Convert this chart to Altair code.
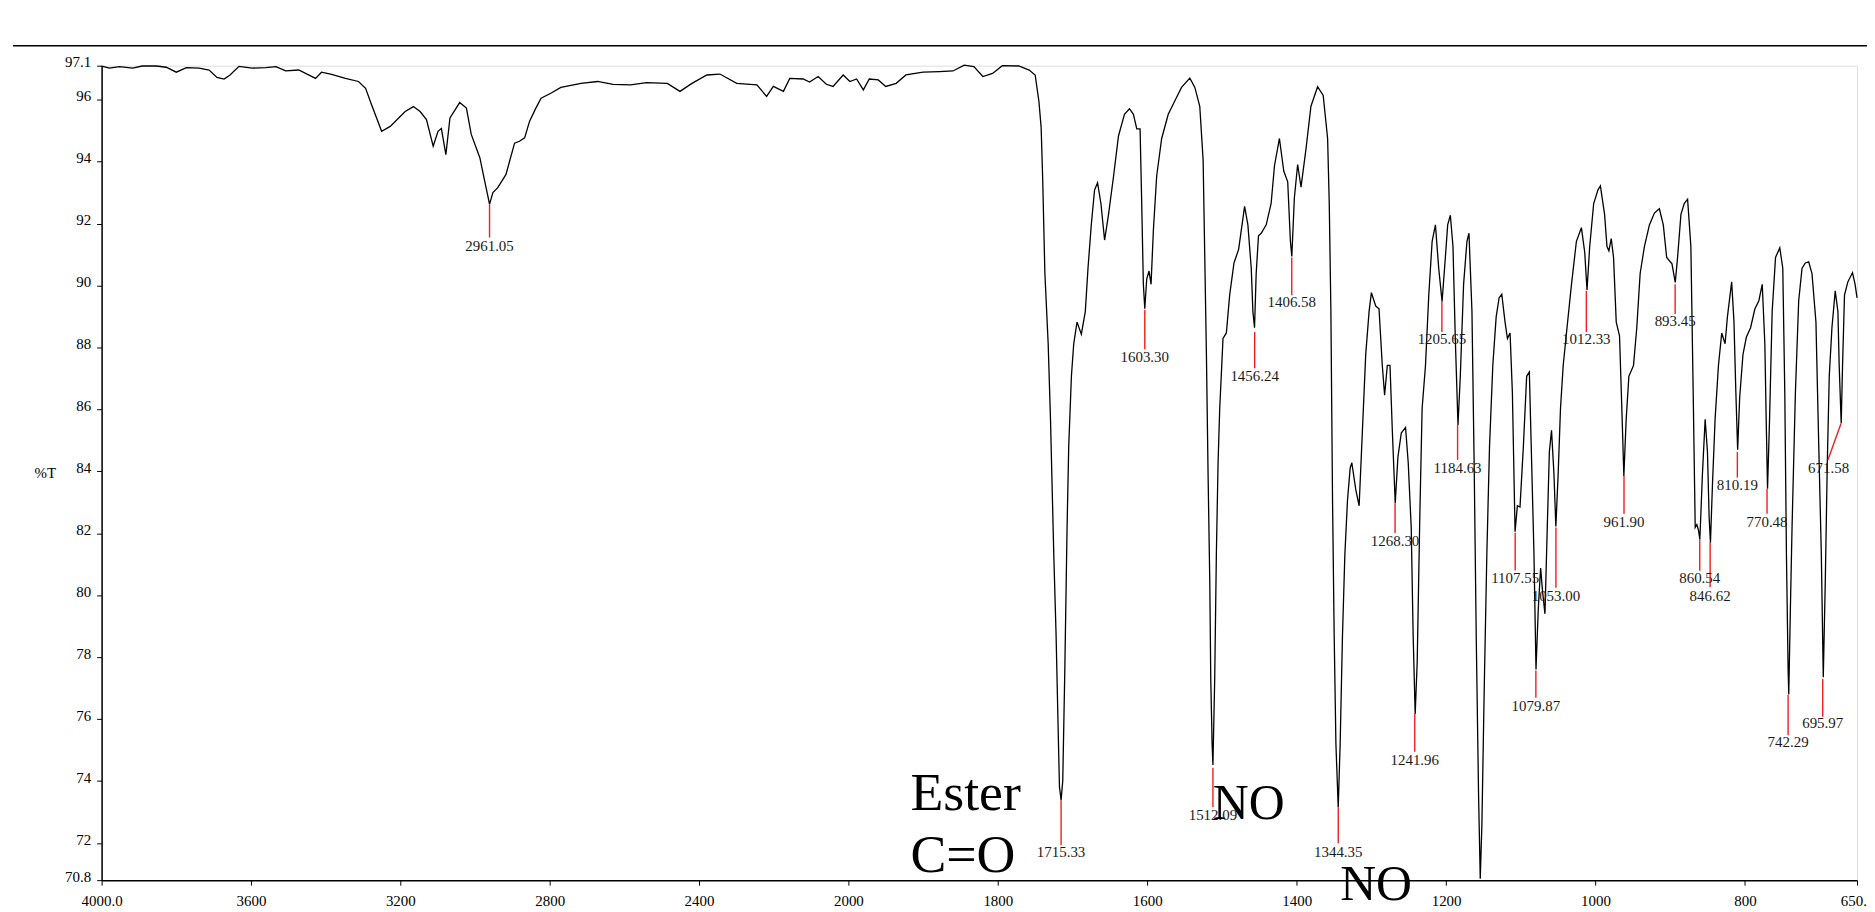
import altair as alt
import pandas as pd

# ---- spectrum trace (wavenumber cm-1, %T) ----
wavenumber = [
    4000, 3979, 3952, 3917, 3891, 3853, 3827, 3800, 3773, 3739, 3712, 3691, 3672, 3656, 3632,
    3597, 3560, 3533, 3507, 3472, 3427, 3411, 3384, 3347, 3312, 3293, 3277, 3250, 3227, 3187,
    3165, 3147, 3130, 3112, 3099, 3090, 3078, 3067, 3041, 3023, 3010, 2987, 2974, 2961, 2952,
    2939, 2917, 2894, 2881, 2867, 2854, 2837, 2823, 2797, 2770, 2716, 2672, 2630, 2584, 2540,
    2485, 2451, 2420, 2379, 2344, 2299, 2245, 2219, 2201, 2174, 2157, 2121, 2104, 2081, 2059,
    2041, 2014, 1998, 1989, 1980, 1972, 1960, 1950, 1936, 1923, 1900, 1878, 1860, 1845, 1832,
    1820, 1807, 1794, 1772, 1758, 1750, 1745, 1742, 1740, 1737, 1732.6, 1729.5, 1725.1, 1722,
    1719.3, 1717.5, 1715.3, 1713.1, 1710.4, 1707.3, 1705.1, 1701.5, 1698.4, 1694, 1688.2,
    1682.9, 1679.3, 1674.9, 1670.5, 1666.5, 1662, 1657.1, 1651.8, 1645.1, 1638.5, 1630.5,
    1623.8, 1618.5, 1614, 1609.6, 1607.4, 1605.2, 1603.3, 1600.7, 1597.6, 1594.9, 1591.8,
    1587.4, 1580.7, 1571.9, 1563, 1554.1, 1543, 1536.3, 1529.7, 1525.2, 1523, 1520.8, 1518.6,
    1516.3, 1515, 1513.2, 1512.1, 1509.7, 1507.5, 1505.2, 1503, 1498.6, 1494.1, 1489.7,
    1483.9, 1477.7, 1469.7, 1465.3, 1460.8, 1458.6, 1456.4, 1454.2, 1451.1, 1447.5, 1440.8,
    1434.2, 1429.7, 1423.1, 1417.3, 1412, 1408.4, 1406.5, 1403.1, 1398.7, 1394.2, 1387.6,
    1380.9, 1372, 1364.5, 1358.6, 1356.4, 1354.2, 1352, 1349.8, 1347.5, 1344.4, 1341.8,
    1338.7, 1335.5, 1332, 1328.4, 1326.2, 1320.9, 1316.4, 1312, 1307.6, 1303.1, 1300, 1294.2,
    1289.8, 1285.4, 1282.3, 1278.7, 1275.1, 1272, 1268.1, 1264.5, 1260, 1254.3, 1250.7,
    1246.7, 1244.1, 1241.4, 1238.7, 1235.2, 1232.1, 1227.6, 1223.2, 1218.7, 1214.3, 1209.9,
    1205.4, 1201, 1197.9, 1194.3, 1190.8, 1187.7, 1184.1, 1181, 1176.6, 1172.1, 1169.4,
    1165.4, 1162.3, 1159.7, 1156.5, 1154.3, 1152.1, 1149, 1145.5, 1141.9, 1137.5, 1133,
    1129.1, 1125.5, 1121.1, 1117.9, 1114.4, 1111.3, 1107.7, 1104.6, 1101.1, 1096.6, 1092.2,
    1088.6, 1085.5, 1082.4, 1079.7, 1076.6, 1073.5, 1070.8, 1067.7, 1064.6, 1061.8, 1058.9,
    1055.7, 1053.1, 1050, 1046.9, 1043.3, 1038.9, 1032.2, 1025.6, 1018.9, 1014.5, 1011.4,
    1007.8, 1002.5, 996.7, 993.5, 987.9, 984.7, 982.1, 979, 975.9, 972.3, 967.9, 964.8,
    962.1, 959, 955.4, 949.2, 944.8, 940.3, 934.6, 927.9, 921.2, 914.6, 909.3, 904.8, 897.7,
    893.3, 890.2, 885.7, 881.3, 876.8, 872.4, 869.3, 866.6, 864.4, 862.2, 860.4, 856.9,
    853.3, 850.2, 848, 846.2, 843.5, 840, 835.5, 831.1, 826.6, 823.5, 817.8, 814.7, 812.4,
    809.8, 807.1, 802.7, 798.2, 792.5, 786.7, 781.4, 776.9, 773.4, 771.6, 769.8, 767.1,
    763.6, 759.1, 753.4, 749.4, 746.7, 744.5, 742.3, 741.4, 739.2, 737, 732.5, 728.1, 723.6,
    719.2, 714.7, 710.3, 705, 701.4, 697.8, 695.2, 692.5, 689.8, 687.2, 683.6, 679.2, 675.6,
    673.9, 671.2, 669.4, 666.8, 662.3, 656.1, 652.6, 650,
]
transmittance = [
    97.09, 97.02, 97.07, 97.02, 97.09, 97.09, 97.05, 96.89, 97.04, 97.02, 96.96, 96.72, 96.67, 96.80, 97.08,
    97.02, 97.04, 97.07, 96.93, 96.96, 96.69, 96.89, 96.82, 96.69, 96.59, 96.37, 95.84, 94.98, 95.14, 95.62,
    95.78, 95.62, 95.36, 94.50, 94.98, 95.07, 94.23, 95.41, 95.91, 95.73, 94.88, 94.13, 93.37, 92.63, 93.00,
    93.16, 93.59, 94.60, 94.66, 94.77, 95.30, 95.73, 96.05, 96.21, 96.40, 96.53, 96.59, 96.50, 96.48, 96.55,
    96.53, 96.27, 96.52, 96.80, 96.83, 96.53, 96.48, 96.11, 96.43, 96.27, 96.69, 96.67, 96.57, 96.75, 96.50,
    96.43, 96.80, 96.59, 96.67, 96.32, 96.67, 96.64, 96.43, 96.53, 96.80, 96.89, 96.91, 96.93, 97.12, 97.07,
    96.75, 96.85, 97.10, 97.09, 96.96, 96.80, 95.95, 95.10, 93.50, 90.40, 88.12, 85.68, 81.32, 78.70,
    75.74, 73.82, 73.38, 74.00, 77.48, 82.19, 84.80, 87.07, 88.12, 88.82, 88.43,
    89.16, 90.56, 91.96, 93.09, 93.32, 92.65, 91.47, 92.30, 93.53, 94.83, 95.53,
    95.71, 95.53, 95.06, 95.06, 92.65, 90.04, 89.25, 90.21, 90.47, 90.04, 91.78,
    93.53, 94.75, 95.53, 95.97, 96.40, 96.70, 96.40, 95.79, 94.05, 90.91, 87.77, 83.93,
    80.45, 77.31, 75.21, 74.52, 77.31, 81.32, 84.28, 86.03, 88.29, 88.47, 89.69,
    90.73, 91.17, 92.56, 91.96, 90.56, 89.16, 88.64, 90.39, 91.61, 91.69, 91.96,
    92.65, 93.87, 94.75, 93.70, 93.35, 91.43, 90.94, 92.83, 93.91, 93.18, 94.40,
    95.79, 96.42, 96.14, 94.75, 92.65, 89.16, 83.06, 78.70, 75.21, 73.15, 75.21,
    78.70, 81.32, 83.06, 84.11, 84.28, 83.41, 82.89, 85.33, 87.77, 89.16, 89.77, 89.34,
    89.25, 87.42, 86.46, 87.42, 87.42, 85.33, 82.97, 84.46, 85.24, 85.42, 84.28,
    82.19, 78.70, 76.17, 77.83, 82.54, 86.03, 87.42, 89.69, 91.43, 91.96, 90.56,
    89.48, 90.91, 91.96, 92.27, 91.26, 88.29, 85.50, 87.07, 90.04, 91.43, 91.69,
    89.16, 83.93, 78.70, 73.47, 70.85, 72.60, 76.96, 81.32, 84.80, 87.42, 88.99,
    89.60, 89.72, 88.82, 88.29, 88.47, 86.55, 82.05, 82.89, 82.85, 84.80, 87.07,
    87.21, 84.28, 81.32, 77.60, 79.57, 80.88, 80.10, 79.40, 82.19, 84.63, 85.33,
    83.93, 82.22, 83.93, 86.03, 87.42, 88.47, 90.04, 91.43, 91.87, 91.08, 89.86,
    91.26, 92.65, 93.09, 93.22, 92.30, 91.26, 91.12, 91.52, 90.91, 88.82, 88.38, 86.03,
    83.85, 85.68, 87.07, 87.42, 88.64, 90.39, 91.26, 91.96, 92.34, 92.48, 91.96, 90.91, 90.70,
    90.10, 90.91, 92.30, 92.65, 92.79, 91.26, 86.55, 82.19, 82.28, 82.10, 81.80, 83.93,
    85.68, 84.63, 82.54, 81.70, 83.58, 85.68, 87.42, 88.47, 88.12, 88.99, 90.12, 88.82, 86.72,
    84.70, 86.38, 87.77, 88.33, 88.64, 89.25, 89.51, 90.04, 88.12, 85.68, 83.44, 85.68,
    89.16, 90.91, 91.22, 90.56, 86.55, 81.32, 77.66, 76.80, 79.57, 82.19, 86.55, 89.51, 90.56,
    90.73, 90.77, 90.39, 88.82, 84.98, 81.32, 77.35, 80.45, 84.28, 87.07, 88.64, 89.83, 89.16,
    87.42, 85.55, 87.42, 89.69, 90.12, 90.42, 90.04, 89.60,
]

# ---- peak picks ----
peak_labels = ["2961.05", "1715.33", "1603.30", "1512.09", "1456.24", "1406.58", "1344.35",
               "1268.30", "1241.96", "1205.65", "1184.63", "1107.55", "1079.87", "1053.00",
               "1012.33", "961.90", "893.45", "860.54", "846.62", "810.19", "770.48",
               "742.29", "695.97", "671.58"]
peak_wn = [2961.05, 1715.33, 1603.30, 1512.09, 1456.24, 1406.58, 1344.35, 1268.30, 1241.96,
           1205.65, 1184.63, 1107.55, 1079.87, 1053.00, 1012.33, 961.90, 893.45, 860.54,
           846.62, 810.19, 770.48, 742.29, 695.97, 671.58]
peak_T = [92.63, 73.38, 89.22, 74.43, 88.50, 90.91, 73.15, 82.97, 76.17, 89.48, 85.50, 82.02,
          77.57, 82.19, 89.83, 83.85, 90.04, 81.80, 81.70, 84.63, 83.44, 76.78, 77.30, 85.54]
stem_end_wn = [2961.05, 1715.33, 1603.30, 1512.09, 1456.24, 1406.58, 1344.35, 1268.30, 1241.96,
               1205.65, 1184.63, 1107.55, 1079.87, 1053.00, 1012.33, 961.90, 893.45, 860.54,
               846.62, 810.19, 770.48, 742.29, 695.97, 689.0]
stem_end_T = [91.55, 71.93, 87.94, 73.16, 87.33, 89.69, 71.99, 82.01, 74.95, 88.50, 84.37, 80.80,
              76.69, 80.24, 88.50, 82.63, 89.08, 80.79, 80.27, 83.80, 82.63, 75.48, 76.08, 84.37]
label_wn = [2961.05, 1715.33, 1603.30, 1512.09, 1456.24, 1406.58, 1344.35, 1268.30, 1241.96,
            1205.65, 1184.63, 1107.55, 1079.87, 1053.00, 1012.33, 961.90, 893.45, 860.54,
            846.62, 810.19, 770.48, 742.29, 695.97, 688.1]
label_T = [91.29, 71.72, 87.68, 72.91, 87.07, 89.46, 71.72, 81.75, 74.69, 88.29, 84.11, 80.57,
           76.43, 79.97, 88.26, 82.37, 88.85, 80.57, 79.97, 83.55, 82.37, 75.25, 75.86, 84.10]

# ---- large annotations ----
note_text = ["Ester", "C=O", "NO", "NO"]
note_wn = [1917, 1917, 1512.3, 1341.8]
note_T = [73.07, 71.08, 72.78, 70.17]
note_size = [54, 54, 50, 50]

# ---- axes ----
x_tick_values = [4000, 3600, 3200, 2800, 2400, 2000, 1800, 1600, 1400, 1200, 1000, 800, 650]
x_tick_labels = ["4000.0", "3600", "3200", "2800", "2400", "2000", "1800", "1600", "1400",
                 "1200", "1000", "800", "650.0"]
y_tick_values = [97.1, 96, 94, 92, 90, 88, 86, 84, 82, 80, 78, 76, 74, 72, 70.8]
y_tick_labels = ["97.1", "96", "94", "92", "90", "88", "86", "84", "82", "80", "78", "76",
                 "74", "72", "70.8"]


def label_expr(values, labels):
    expr = "''"
    for v, l in reversed(list(zip(values, labels))):
        expr = f"abs(datum.value - {v}) < 0.001 ? '{l}' : ({expr})"
    return expr


FONT = "Liberation Serif"
W, H = 1763, 818

xscale = alt.Scale(domain=[4000, 2000, 650], range=[0, 750, W], nice=False, zero=False)
yscale = alt.Scale(domain=[70.8, 97.1], nice=False, zero=False)

spec = pd.DataFrame({"wn": wavenumber, "T": transmittance})
peaks = pd.DataFrame({"label": peak_labels, "wn": peak_wn, "t0": peak_T,
                      "wn2": stem_end_wn, "t1": stem_end_T,
                      "lwn": label_wn, "lt": label_T})
notes = pd.DataFrame({"text": note_text, "wn": note_wn, "T": note_T, "fs": note_size})

x_axis = alt.Axis(values=x_tick_values, labelExpr=label_expr(x_tick_values, x_tick_labels),
                  title=None, grid=False, labelFont=FONT, labelFontSize=15, labelColor="#000",
                  tickSize=5, tickColor="#000", domainColor="#000", domainWidth=1.5,
                  labelBaseline="alphabetic", labelPadding=20, labelFlush=False,
                  labelOverlap=False)
y_axis = alt.Axis(values=y_tick_values, labelExpr=label_expr(y_tick_values, y_tick_labels),
                  title="%T", titleAngle=0, titleX=-57, titleY=409, titleAlign="center",
                  titleBaseline="middle", titleFont=FONT, titleFontSize=15,
                  titleFontWeight="normal", titleColor="#000",
                  grid=False, labelFont=FONT, labelFontSize=15, labelColor="#000",
                  tickSize=5, tickColor="#000", domainColor="#000", domainWidth=1.5,
                  labelBaseline="alphabetic", labelOffset=1, labelPadding=6,
                  labelFlush=False, labelOverlap=False)

line = alt.Chart(spec).mark_line(color="#000", strokeWidth=1.3).encode(
    x=alt.X("wn:Q", scale=xscale, axis=x_axis),
    y=alt.Y("T:Q", scale=yscale, axis=y_axis),
)

stems = alt.Chart(peaks).mark_rule(color="#f01e1e", strokeWidth=1.4).encode(
    x=alt.X("wn:Q", scale=xscale), y=alt.Y("t0:Q", scale=yscale),
    x2="wn2:Q", y2="t1:Q",
)

labels = alt.Chart(peaks).mark_text(font=FONT, fontSize=15, color="#1a1a1a",
                                    align="center", baseline="middle").encode(
    x=alt.X("lwn:Q", scale=xscale), y=alt.Y("lt:Q", scale=yscale), text="label:N",
)

big = alt.Chart(notes).mark_text(font=FONT, color="#000", align="left",
                                 baseline="alphabetic").encode(
    x=alt.X("wn:Q", scale=xscale), y=alt.Y("T:Q", scale=yscale), text="text:N",
    size=alt.Size("fs:Q", scale=None, legend=None),
)

top_rule = alt.Chart(pd.DataFrame({"k": [0]})).mark_rule(color="#000", strokeWidth=1.5).encode(
    x=alt.value(-89), x2=alt.value(W + 20), y=alt.value(-20),
)

chart = alt.layer(line, stems, labels, big, top_rule).properties(
    width=W, height=H,
    padding={"left": 94, "top": 56, "right": 10, "bottom": 28},
    autosize=alt.AutoSizeParams(type="none"),
).configure_view(stroke=None).configure(background="white")

chart.save("out.html", embed_options={"renderer": "svg", "actions": False})
